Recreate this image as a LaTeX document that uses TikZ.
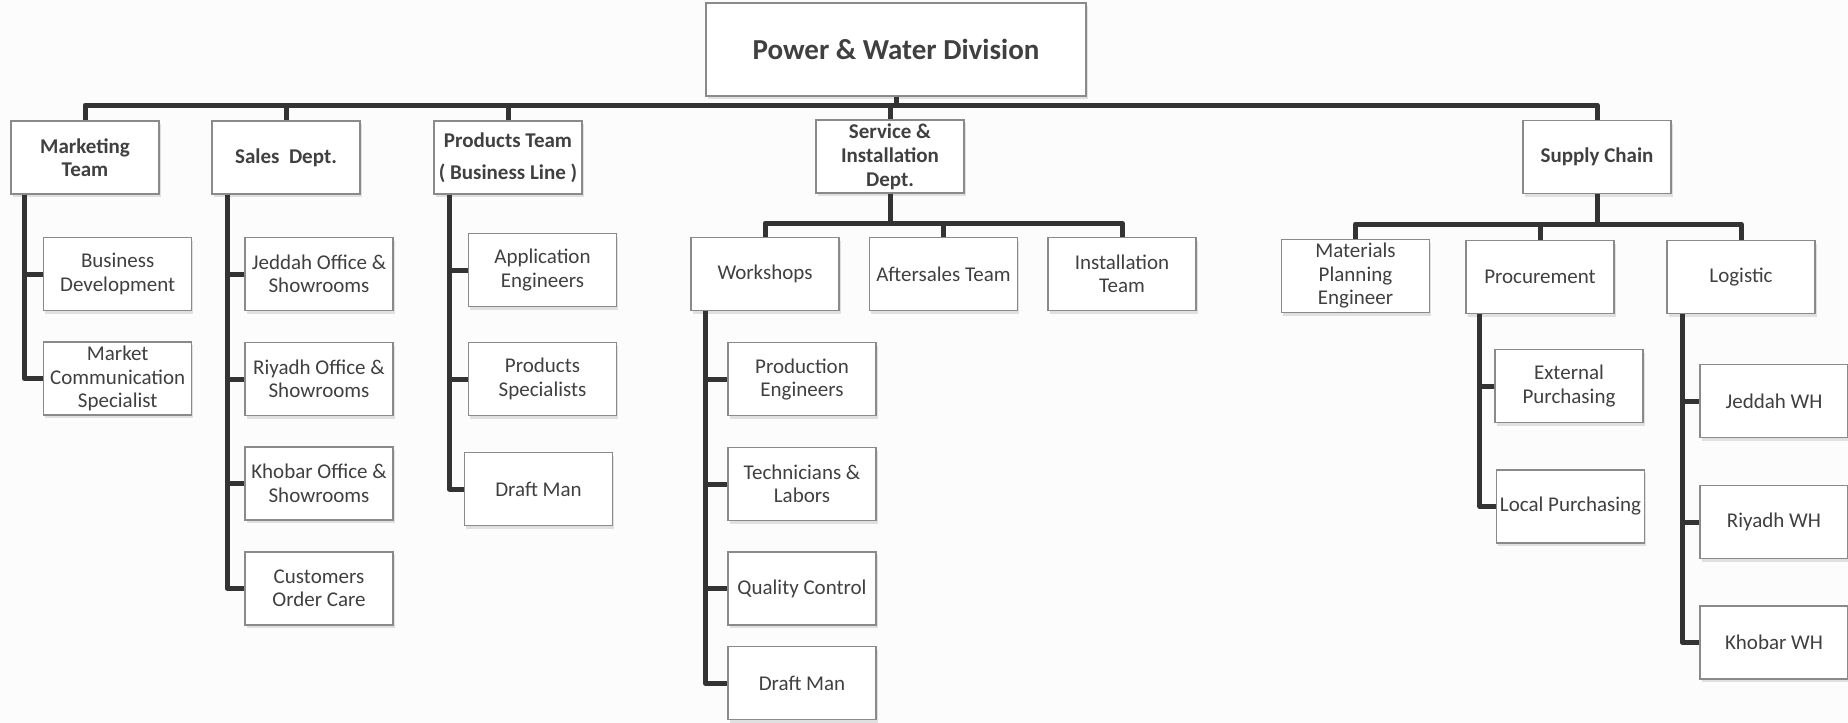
\documentclass[tikz,border=0pt]{standalone}
\usepackage{fontspec}
\setmainfont{Carlito}
\usetikzlibrary{shadows}
\definecolor{ink}{HTML}{404040}
\definecolor{wirec}{HTML}{333333}
\definecolor{edge}{HTML}{8A8A8A}
\definecolor{paper}{HTML}{FCFCFC}
\tikzstyle{wire}=[line width=5pt, draw=wirec, line join=round]
\tikzstyle{box}=[rectangle, draw=edge, line width=1.2pt, fill=white, minimum width=148pt, minimum height=73pt, inner xsep=1pt, align=center, text=ink, font=\fontsize{21}{23.5}\selectfont, drop shadow={opacity=0.22, shadow xshift=1.5pt, shadow yshift=-3pt}]
\tikzstyle{head}=[box, font=\bfseries\fontsize{21}{22.5}\selectfont]
\begin{document}
\begin{tikzpicture}[x=1pt, y=-1pt]
\fill[paper] (0,0) rectangle (1848,723);
\useasboundingbox (0,0) rectangle (1848,723);

\coordinate (bar) at (896,105);
\coordinate (servbar) at (890,223);
\coordinate (supbar) at (1597,224);

\draw (896,49.5) node [head, minimum width=380pt, minimum height=93pt, font=\bfseries\fontsize{29}{34}\selectfont] (pwd) {Power \& Water Division};

\draw (85,157.5) node [head] (mkt) {Marketing\\Team};
\draw (286,157.5) node [head] (sales) {Sales\ \ Dept.};
\draw (508,157.5) node [head] (prod) {Products Team\\[9pt]( Business Line )};
\draw (890,156.5) node [head, font=\bfseries\fontsize{21}{24}\selectfont] (serv) {Service \&\\Installation\\Dept.};
\draw (1597,157) node [head] (supply) {Supply Chain};

\draw (117.7,274) node [box] (bizdev) {Business\\Development};
\draw (117.7,378.5) node [box] (mktcomm) {Market\\Communication\\Specialist};

\draw (319,274) node [box] (jedoff) {Jeddah Office \&\\Showrooms};
\draw (319,379) node [box] (riyoff) {Riyadh Office \&\\Showrooms};
\draw (319,483.5) node [box] (khoboff) {Khobar Office \&\\Showrooms};
\draw (319,588.5) node [box] (custcare) {Customers\\Order Care};

\draw (542.5,270) node [box] (appeng) {Application\\Engineers};
\draw (542.5,379) node [box] (prodspec) {Products\\Specialists};
\draw (538.5,489) node [box] (draftp) {Draft Man};

\draw (765,274) node [box] (wshop) {Workshops};
\draw (943.5,274) node [box] (after) {Aftersales Team};
\draw (1122,274) node [box] (install) {Installation\\Team};

\draw (802,379.3) node [box] (prodeng) {Production\\Engineers};
\draw (802,484) node [box] (tech) {Technicians \&\\Labors};
\draw (802,588.5) node [box] (qc) {Quality Control};
\draw (802,683.3) node [box] (draftw) {Draft Man};

\draw (1355.5,276) node [box] (matpl) {Materials\\Planning\\Engineer};
\draw (1540,277) node [box] (procure) {Procurement};
\draw (1741,277) node [box] (logist) {Logistic};

\draw (1569,386) node [box] (extpur) {External\\Purchasing};
\draw (1570.5,506.5) node [box] (locpur) {Local Purchasing};

\draw (1774,401) node [box] (jedwh) {Jeddah WH};
\draw (1774,522) node [box] (riywh) {Riyadh WH};
\draw (1774,642.5) node [box] (khobwh) {Khobar WH};

% main bar
\draw (pwd.south) |- (mkt.north |- bar) -- (mkt.north) [wire];
\draw (pwd.south) |- (sales.north |- bar) -- (sales.north) [wire];
\draw (pwd.south) |- (prod.north |- bar) -- (prod.north) [wire];
\draw (pwd.south) |- (serv.north |- bar) -- (serv.north) [wire];
\draw (pwd.south) |- (supply.north |- bar) -- (supply.north) [wire];

% side stems
\coordinate (mktstem) at ([xshift=14pt]mkt.south west);
\draw (mktstem) |- (bizdev.west) [wire];
\draw (mktstem) |- (mktcomm.west) [wire];

\coordinate (salesstem) at ([xshift=16pt]sales.south west);
\draw (salesstem) |- (jedoff.west) [wire];
\draw (salesstem) |- (riyoff.west) [wire];
\draw (salesstem) |- (khoboff.west) [wire];
\draw (salesstem) |- (custcare.west) [wire];

\coordinate (prodstem) at ([xshift=16pt]prod.south west);
\draw (prodstem) |- (appeng.west) [wire];
\draw (prodstem) |- (prodspec.west) [wire];
\draw (prodstem) |- (draftp.west) [wire];

% service
\draw (serv.south) |- (wshop.north |- servbar) -- (wshop.north) [wire];
\draw (serv.south) |- (after.north |- servbar) -- (after.north) [wire];
\draw (serv.south) |- (install.north |- servbar) -- (install.north) [wire];

\coordinate (wshopstem) at ([xshift=15pt]wshop.south west);
\draw (wshopstem) |- (prodeng.west) [wire];
\draw (wshopstem) |- (tech.west) [wire];
\draw (wshopstem) |- (qc.west) [wire];
\draw (wshopstem) |- (draftw.west) [wire];

% supply chain
\draw (supply.south) |- (matpl.north |- supbar) -- (matpl.north) [wire];
\draw (supply.south) |- (procure.north |- supbar) -- (procure.north) [wire];
\draw (supply.south) |- (logist.north |- supbar) -- (logist.north) [wire];

\coordinate (procstem) at ([xshift=14.5pt]procure.south west);
\draw (procstem) |- (extpur.west) [wire];
\draw (procstem) |- (locpur.west) [wire];

\coordinate (logstem) at ([xshift=16pt]logist.south west);
\draw (logstem) |- (jedwh.west) [wire];
\draw (logstem) |- (riywh.west) [wire];
\draw (logstem) |- (khobwh.west) [wire];

\end{tikzpicture}
\end{document}
